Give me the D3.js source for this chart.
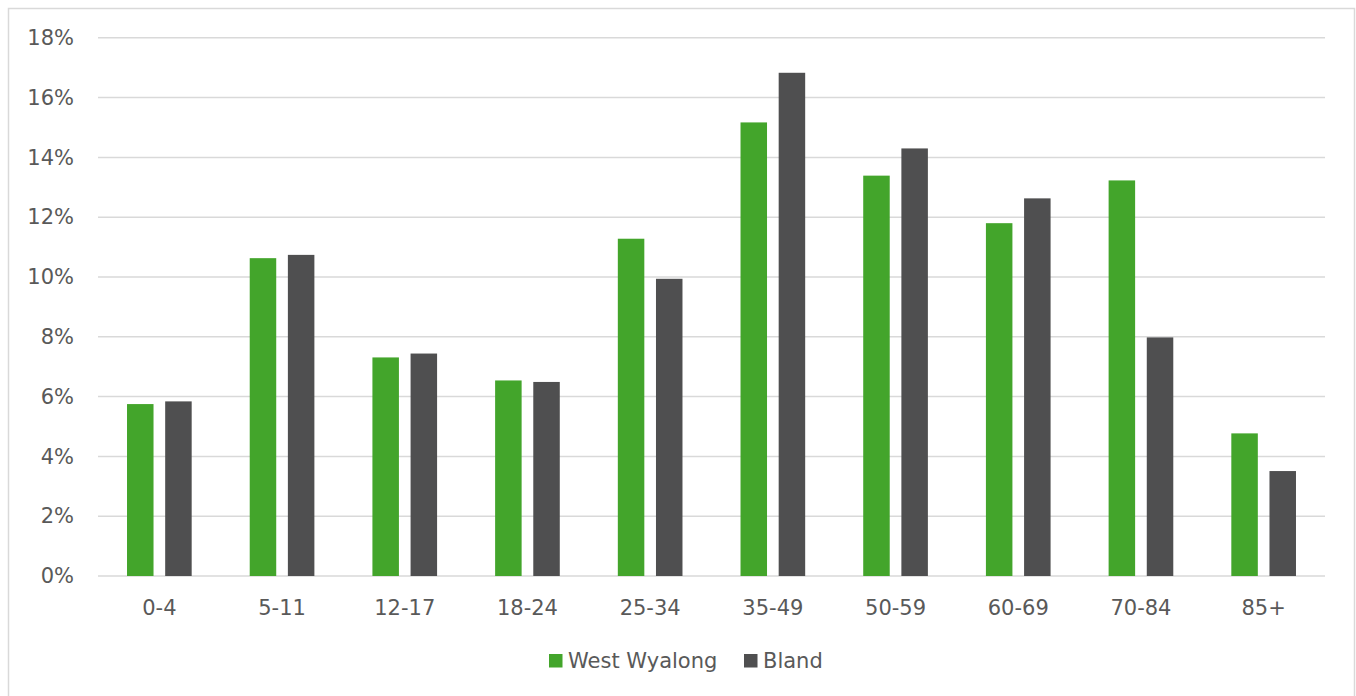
<!DOCTYPE html>
<html>
<head>
<meta charset="utf-8">
<script src="https://cdn.jsdelivr.net/npm/d3@7"></script>
<style>
  html, body { margin: 0; padding: 0; background: #ffffff; }
  svg { display: block; }
  text { font-family: "DejaVu Sans", Verdana, sans-serif; fill: #595959; }
</style>
</head>
<body>
<svg id="chart" width="1356" height="696"></svg>
<script>
// Age groups and share of population (%) for each area
const ageGroups = ["0-4", "5-11", "12-17", "18-24", "25-34", "35-49", "50-59", "60-69", "70-84", "85+"];
const westWyalong = [5.75, 10.63, 7.31, 6.54, 11.28, 15.17, 13.39, 11.80, 13.23, 4.77];
const bland = [5.84, 10.74, 7.44, 6.49, 9.94, 16.83, 14.30, 12.63, 7.98, 3.51];
const yTicks = [0, 2, 4, 6, 8, 10, 12, 14, 16, 18];
const seriesNames = ["West Wyalong", "Bland"];
const seriesColors = ["#43a52b", "#4f4f50"];

const svg = d3.select("#chart");
const W = 1356, H = 696;
const FONT = 21;

// outer frame
svg.append("rect")
  .attr("x", 8.5).attr("y", 8.5)
  .attr("width", W - 10).attr("height", H)
  .attr("fill", "none").attr("stroke", "#d9d9d9").attr("stroke-width", 1.5);

const plot = { left: 98, right: 1325, top: 37.8, bottom: 576 };

const x = d3.scaleBand().domain(ageGroups).range([plot.left, plot.right]).paddingInner(0).paddingOuter(0);
const y = d3.scaleLinear().domain([0, 18]).range([plot.bottom, plot.top]);

// horizontal gridlines
svg.append("g").selectAll("line")
  .data(yTicks)
  .join("line")
  .attr("x1", plot.left).attr("x2", plot.right)
  .attr("y1", d => y(d)).attr("y2", d => y(d))
  .attr("stroke", "#d9d9d9").attr("stroke-width", 1.5);

// y axis labels
const yAxis = d3.axisLeft(y).tickValues(yTicks).tickFormat(d => d + "%").tickSize(0).tickPadding(0);
const gy = svg.append("g").attr("transform", `translate(${74},0)`).call(yAxis);
gy.select(".domain").remove();
gy.selectAll("text").attr("font-size", FONT).attr("fill", "#595959")
  .style("font-family", '"DejaVu Sans", Verdana, sans-serif');

// x axis labels
const xAxis = d3.axisBottom(x).tickSize(0).tickPadding(0);
const gx = svg.append("g").attr("transform", `translate(0,${600})`).call(xAxis);
gx.select(".domain").remove();
gx.selectAll("text").attr("font-size", FONT).attr("fill", "#595959")
  .style("font-family", '"DejaVu Sans", Verdana, sans-serif');

// grouped bars: two bars per age group, centred in the band
const bw = x.bandwidth();
const barW = bw * 0.216;
const gap = bw * 0.095;
const groupW = barW * 2 + gap;
const inner = d3.scaleBand().domain([0, 1])
  .range([bw / 2 - groupW / 2, bw / 2 + groupW / 2])
  .paddingInner(gap / (barW + gap)).paddingOuter(0);

const series = [westWyalong, bland];
series.forEach((vals, si) => {
  svg.append("g").selectAll("rect")
    .data(vals.map((v, i) => ({ cat: ageGroups[i], v })))
    .join("rect")
    .attr("x", d => x(d.cat) + inner(si))
    .attr("width", inner.bandwidth())
    .attr("y", d => y(d.v))
    .attr("height", d => y(0) - y(d.v))
    .attr("fill", seriesColors[si]);
});

// legend
const legend = svg.append("g");
const legendItems = [
  { name: seriesNames[0], color: seriesColors[0], x: 549 },
  { name: seriesNames[1], color: seriesColors[1], x: 744 }
];
legendItems.forEach(it => {
  legend.append("rect").attr("x", it.x).attr("y", 654).attr("width", 13.5).attr("height", 13.5).attr("fill", it.color);
  legend.append("text").attr("x", it.x + 19).attr("y", 661).attr("dy", "0.35em")
    .attr("font-size", FONT).text(it.name);
});
</script>
</body>
</html>
